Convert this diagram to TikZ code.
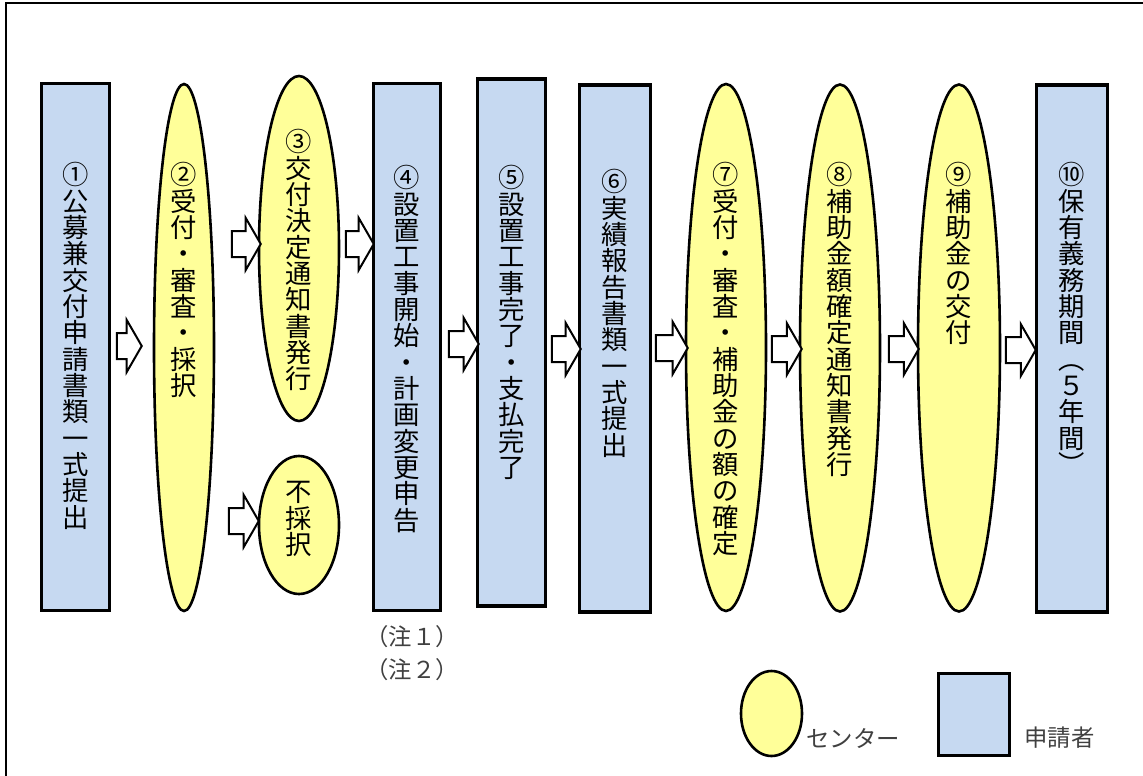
\documentclass[tikz,border=0pt]{standalone}
\usepackage{fontspec}
\setmainfont{Noto Sans CJK JP}
\usetikzlibrary{shapes.geometric,shapes.arrows,positioning}
\definecolor{applicantfill}{HTML}{C6D9F1}
\definecolor{centerfill}{HTML}{FFFF99}
\definecolor{notegray}{HTML}{404040}
\newlength\px
\setlength\px{0.02cm}

\begin{document}
\begin{tikzpicture}[x=0.02cm,y=-0.02cm,
    appbox/.style={rectangle,draw,line width=3.2\px,fill=applicantfill,inner sep=0,
        minimum width=68\px,minimum height=527\px},
    ctrell/.style={ellipse,draw,line width=2.6\px,fill=centerfill,inner sep=0,
        minimum width=80\px,minimum height=527\px},
    tate/.style={font=\fontsize{15}{15}\selectfont,align=center,inner sep=0,anchor=north},
    flow/.style={single arrow,draw,fill=white,line width=2\px,inner xsep=0,inner ysep=12\px,
        single arrow head extend=13\px,single arrow tip angle=120,minimum height=29\px},
    note/.style={font=\fontsize{13.3}{15}\selectfont,text=notegray,inner sep=0}]
    \useasboundingbox (0,0) rectangle (1143,775);
    \draw[line width=2.2\px] (6,800) -- (6,3) -- (1170,3);

    % steps
    \node[appbox] (b1) at (75.5,347) {};
    \node[ctrell,minimum width=60\px] (e2) at (184,347.5) {};
    \node[ctrell,minimum height=345\px] (e3) at (299,248.5) {};
    \node[ctrell,minimum height=138\px] (en) at (299,525) {};
    \node[appbox,minimum width=67\px] (b4) at (407,347) {};
    \node[appbox] (b5) at (511.5,342.5) {};
    \node[appbox,minimum width=71\px] (b6) at (615,348.5) {};
    \node[ctrell] (e7) at (726,347.5) {};
    \node[ctrell] (e8) at (840,348) {};
    \node[ctrell,minimum width=82\px] (e9) at (959,348) {};
    \node[appbox,minimum width=71\px] (b10) at (1072,348.5) {};

    \node[tate] (t1) at (75.5,162) {①\\公\\募\\兼\\交\\付\\申\\請\\書\\類\\一\\式\\提\\出};
    \node[tate] (t2) at (184,162) {②\\受\\付\\・\\審\\査\\・\\採\\択};
    \node[tate] (t3) at (299,129) {③\\交\\付\\決\\定\\通\\知\\書\\発\\行};
    \node[tate,anchor=center] (tn) at (299,519) {不\\採\\択};
    \node[tate] (t4) at (407,165) {④\\設\\置\\工\\事\\開\\始\\・\\計\\画\\変\\更\\申\\告};
    \node[tate] (t5) at (511.5,165) {⑤\\設\\置\\工\\事\\完\\了\\・\\支\\払\\完\\了};
    \node[tate] (t6) at (615,169) {⑥\\実\\績\\報\\告\\書\\類\\一\\式\\提\\出};
    \node[tate] (t7) at (726,162) {⑦\\受\\付\\・\\審\\査\\・\\補\\助\\金\\の\\額\\の\\確\\定};
    \node[tate] (t8) at (840,162) {⑧\\補\\助\\金\\額\\確\\定\\通\\知\\書\\発\\行};
    \node[tate] (t9) at (959,162) {⑨\\補\\助\\金\\の\\交\\付};
    \node[tate] (t10) at (1072,162) {⑩\\保\\有\\義\\務\\期\\間\\︵\\５\\年\\間\\︶};

    % arrows between steps
    \node[flow,minimum height=25\px] (a12) at (125.5,346) {};
    \node[flow] (a23) at (242.5,244) {};
    \node[flow,minimum height=30\px] (a2n) at (240,521) {};
    \node[flow,minimum height=28\px] (a34) at (356,244) {};
    \node[flow,minimum height=30\px] (a45) at (460,344) {};
    \node[flow] (a56) at (562.5,349) {};
    \node[flow,minimum height=32\px] (a67) at (668,348) {};
    \node[flow,minimum height=30\px] (a78) at (783,349) {};
    \node[flow,minimum height=30\px] (a89) at (900,349) {};
    \node[flow,minimum height=30\px] (a910) at (1017,350) {};

    % notes and legend
    \node[note] (n1) at (412,637) {（注１）};
    \node[note] (n2) at (412,670) {（注２）};
    \node[ctrell,minimum width=61\px,minimum height=85\px] (lg1) at (771.5,713.5) {};
    \node[note,anchor=west] (lt1) at (806,738) {センター};
    \node[appbox,minimum width=71\px,minimum height=82\px] (lg2) at (974,714.5) {};
    \node[note,anchor=west] (lt2) at (1024,738) {申請者};
\end{tikzpicture}
\end{document}
